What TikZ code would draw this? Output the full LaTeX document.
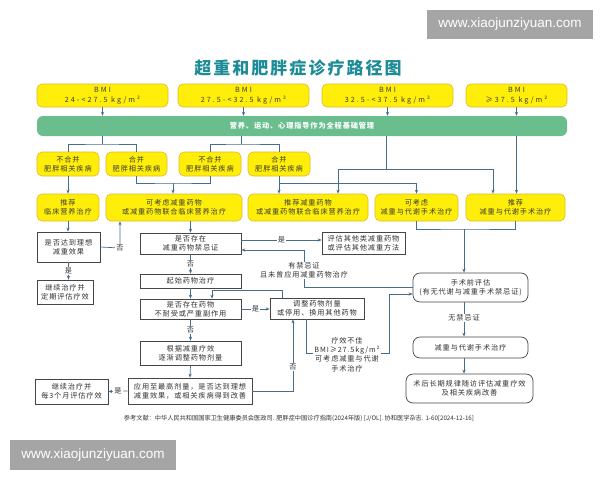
\documentclass[tikz,border=0pt]{standalone}
\usepackage{fontspec}
\setmainfont{Noto Sans CJK SC}
\newfontfamily\cjk{Noto Sans CJK SC}[LetterSpace=12]
\newfontfamily\cjkwide{Noto Sans CJK SC}[LetterSpace=28]
\newfontfamily\cjkplain{Noto Sans CJK SC}
\newfontfamily\wmfont{Liberation Sans}
\usetikzlibrary{arrows.meta}
\definecolor{yfill}{RGB}{255,238,10}
\definecolor{yborder}{RGB}{225,185,40}
\definecolor{ytext}{RGB}{60,60,50}
\definecolor{basegreen}{RGB}{106,190,142}
\definecolor{linec}{RGB}{70,110,140}
\definecolor{wborder}{RGB}{70,70,70}
\definecolor{wtext}{RGB}{50,50,50}
\definecolor{titlec}{RGB}{30,140,150}
\definecolor{wmgray}{RGB}{165,165,165}
\newcommand\boxfont{\cjk\fontsize{7.2}{9.2}\selectfont}
\newcommand\bmifont{\cjkwide\fontsize{7.2}{9.6}\selectfont}
\begin{document}
\begin{tikzpicture}[x=1pt,y=-1pt,
  sz/.style 2 args={minimum width=#1pt, minimum height=#2pt},
  ybox/.style={draw=yborder, fill=yfill, line width=0.6pt, rounded corners=5pt, inner sep=0pt, align=center, font=\boxfont, text=ytext},
  bmibox/.style={ybox, font=\bmifont},
  wbox/.style={draw=wborder, fill=white, line width=0.7pt, inner sep=0pt, align=center, font=\boxfont, text=wtext},
  rbox/.style={wbox, rounded corners=7pt},
  ln/.style={draw=linec, line width=0.7pt},
  arr/.style={ln, -{Stealth[length=4pt,width=3.2pt]}},
  lbl/.style={fill=white, inner sep=1pt, font=\boxfont, text=wtext, align=center}]
\useasboundingbox (0,0) rectangle (600,480);
% watermarks
\node[fill=wmgray, sz={166}{29}, text=white, font=\wmfont\fontsize{13.5}{15}\selectfont] (wm1) at (510,24.5) {www.xiaojunziyuan.com};
\node[fill=wmgray, sz={166}{30}, text=white, font=\wmfont\fontsize{13.5}{15}\selectfont] (wm2) at (93,455) {www.xiaojunziyuan.com};
% title
\node[font=\cjk\bfseries\fontsize{17}{20}\selectfont, text=titlec] (title) at (298,68) {超重和肥胖症诊疗路径图};
% BMI
\node[bmibox, sz={131}{23}] (b1) at (102.5,95.5) {BMI\\24-<27.5 kg/m²};
\node[bmibox, sz={131}{23}] (b2) at (243.5,95.5) {BMI\\27.5-<32.5 kg/m²};
\node[bmibox, sz={131}{23}] (b3) at (387.5,95.5) {BMI\\32.5-<37.5 kg/m²};
\node[bmibox, sz={101}{23}] (b4) at (516.5,95.5) {BMI\\≥37.5 kg/m²};
\node[fill=basegreen, rounded corners=6pt, sz={530}{20}, inner sep=0pt, font=\cjk\bfseries\fontsize{7.2}{9}\selectfont, text=white] (base) at (302,126) {营养、运动、心理指导作为全程基础管理};
% row 2
\node[ybox, sz={62}{24}] (c1) at (68,164) {不合并\\肥胖相关疾病};
\node[ybox, sz={61}{24}] (c2) at (136.5,164) {合并\\肥胖相关疾病};
\node[ybox, sz={62}{24}] (c3) at (210,164) {不合并\\肥胖相关疾病};
\node[ybox, sz={62}{24}] (c4) at (279,164) {合并\\肥胖相关疾病};
% row 3
\node[ybox, sz={62}{27}] (d1) at (68,207.5) {推荐\\临床营养治疗};
\node[ybox, sz={136}{27}] (d2) at (174,207.5) {可考虑减重药物\\或减重药物联合临床营养治疗};
\node[ybox, sz={120}{27}] (d3) at (308,207.5) {推荐减重药物\\或减重药物联合临床营养治疗};
\node[ybox, sz={83}{27}] (d4) at (416.5,207.5) {可考虑\\减重与代谢手术治疗};
\node[ybox, sz={99}{27}] (d5) at (515.5,207.5) {推荐\\减重与代谢手术治疗};
% left column
\node[wbox, sz={63}{30}] (e1) at (68.5,247) {是否达到理想\\减重效果};
\node[wbox, sz={56}{24}] (e2) at (65,292) {继续治疗并\\定期评估疗效};
\node[wbox, sz={73}{25}] (e3) at (71.5,391.5) {继续治疗并\\每3个月评估疗效};
% middle column
\node[wbox, sz={101}{21}] (f1) at (190.5,243.5) {是否存在\\减重药物禁忌证};
\node[wbox, sz={101}{14}] (f2) at (190.5,281) {起始药物治疗};
\node[wbox, sz={101}{20}] (f3) at (190.5,309) {是否存在药物\\不耐受或严重副作用};
\node[wbox, sz={101}{24}] (f4) at (190.5,353) {根据减重疗效\\逐渐调整药物剂量};
\node[wbox, sz={124}{26}] (f5) at (190,391) {应用至最高剂量，是否达到理想\\减重效果，或相关疾病得到改善};
\node[wbox, sz={94}{21}] (g1) at (317,308.5) {调整药物剂量\\或停用、换用其他药物};
\node[wbox, sz={83}{22}] (h1) at (363.5,243) {评估其他类减重药物\\或评估其他减重方法};
% right column
\node[rbox, sz={115}{29}] (s1) at (470.5,287.5) {手术前评估\\(有无代谢与减重手术禁忌证)};
\node[rbox, sz={115}{21}] (s2) at (470.5,347.5) {减重与代谢手术治疗};
\node[rbox, sz={127}{29}] (s3) at (469.5,388.5) {术后长期规律随访评估减重疗效\\及相关疾病改善};
% junction coordinates
\coordinate (k1) at (102,144);
\coordinate (k2) at (241,144);
\coordinate (k3) at (386,169);
\coordinate (k4) at (173,183);
\coordinate (k6) at (464,229);
\coordinate (n1) at (120,248);
\coordinate (n2) at (293,391);
\coordinate (n4) at (389,353);
\coordinate (n5) at (389,294);
\coordinate (n6) at (304,287);
% BMI -> base
\foreach \b in {b1,b2,b3,b4} \draw[arr] (\b.south) -- (\b.south |- base.north);
% base -> row 2
\draw[ln] (base.south -| k1) -- (k1);
\draw[ln] (c1.north) |- (k1) -| (c2.north);
\draw[ln] (base.south -| k2) -- (k2);
\draw[ln] (c3.north) |- (k2) -| (c4.north);
% row 2 -> row 3
\draw[arr] (c1.south) -- (d1.north);
\draw[ln] (c2.south) |- (k4) -| (c3.south);
\draw[arr] (k4) -- (k4 |- d2.north);
\draw[arr] (c4.south) -- (c4.south |- d3.north);
\draw[arr] (c4.south |- k4) -| (d4.north);
\draw[ln] (base.south -| k3) -- (k3);
\draw[arr] (k3) -| ([xshift=30pt]d3.north);
\draw[arr] (k3) -| ([xshift=-22.5pt]d5.north);
\draw[arr] (base.south -| b4.south) -- (b4.south |- d5.north);
% surgery branch
\draw[ln] (d4.south) |- (k6) -| (d5.south);
\draw[arr] (k6) -- (k6 |- s1.north);
\draw[arr] (k6 |- s1.south) -- (k6 |- s2.north) node[lbl, pos=0.46] {无禁忌证};
\draw[arr] (k6 |- s2.south) -- (k6 |- s3.north);
% left column
\draw[arr] (d1.south) -- (d1.south |- e1.north);
\draw[arr] (e1.east) -- (n1) -- (n1 |- d2.south);
\node[lbl] at (n1) {否};
\draw[arr] (e1.south) -- (e1.south |- e2.north) node[lbl, midway] {是};
% middle column
\draw[arr] (f1.north |- d2.south) -- (f1.north);
\draw[arr] (f1.south) -- (f2.north) node[lbl, midway] {否};
\draw[arr] (f2.south) -- (f3.north);
\draw[arr] (f3.south) -- (f4.north) node[lbl, midway] {否};
\draw[arr] (f4.south) -- (f5.north);
\draw[arr] (f5.west) -- (e3.east) node[lbl, midway] {是};
\draw[arr] (f5.east) -- (n2) -- (n2 |- g1.south);
\node[lbl] at (293,367) {否};
\draw[arr] (f3.east) -- (f3.east -| g1.west) node[lbl, midway] {是};
\draw[arr] ([xshift=-35pt]g1.north) -- ++(0,-7) -| ([xshift=21.5pt]f3.north);
\draw[arr] ([xshift=-11pt]g1.south) |- (n4) -- (n5) -- (n5 -| s1.west);
\node[lbl] at (347,354.5) {疗效不佳\\BMI≥27.5kg/m²\\可考虑减重与代谢\\手术治疗};
\draw[arr] ([yshift=3.5pt]f1.east) -- ([yshift=3.5pt]f1.east -| h1.west) node[lbl, midway] {是};
\draw[arr] (s1.west |- n6) -- (n6) |- ([yshift=-6.5pt]f1.east);
\node[lbl] at (304,270.5) {有禁忌证\\且未曾应用减重药物治疗};
% reference
\node[font=\cjkplain\fontsize{6.2}{7}\selectfont, text=wtext] (ref) at (299,418) {参考文献：中华人民共和国国家卫生健康委员会医政司. 肥胖症中国诊疗指南(2024年版) [J/OL]. 协和医学杂志. 1-60[2024-12-16]};
\end{tikzpicture}
\end{document}
